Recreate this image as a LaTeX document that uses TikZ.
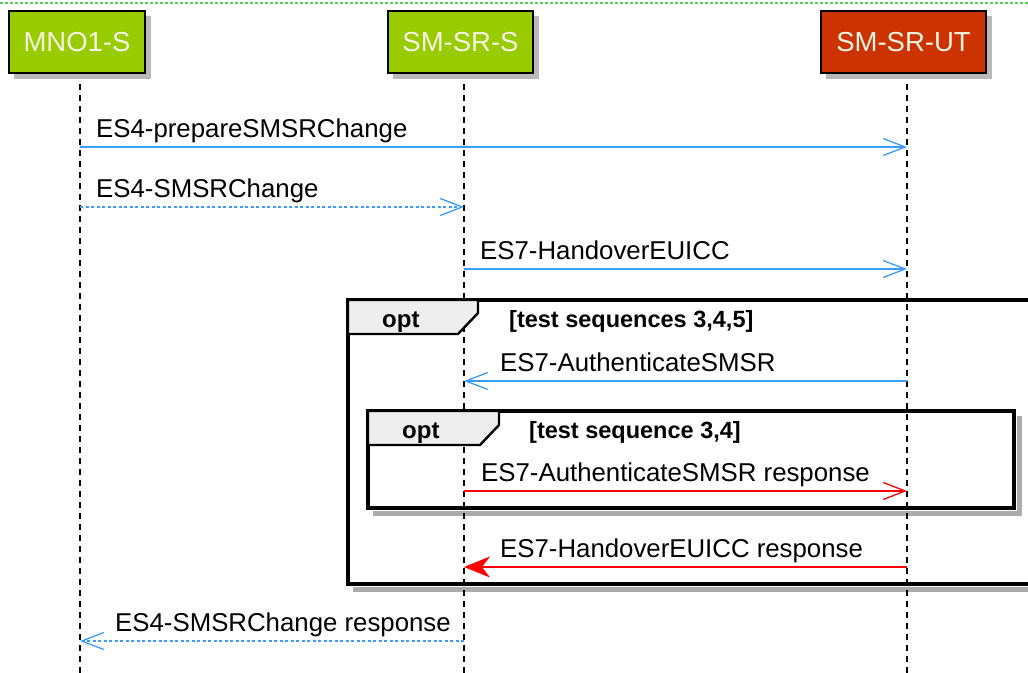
\documentclass[tikz,border=0pt]{standalone}
\usepackage{fontspec}
\setmainfont{Liberation Sans}
\usetikzlibrary{arrows.meta}
\definecolor{pgreen}{HTML}{99CC00}
\definecolor{pred}{HTML}{CC3300}
\definecolor{ptext}{HTML}{F4F4E4}
\definecolor{mblue}{HTML}{3A9CFF}
\definecolor{mred}{HTML}{FF0000}
\definecolor{tabgray}{HTML}{EEEEEE}
\definecolor{topgreen}{HTML}{55CC55}
\begin{document}
\begin{tikzpicture}[x=1pt,y=-1pt,
  partbox/.style={draw=black, line width=2.4pt, minimum height=62pt, inner sep=0pt,
    text=ptext, font=\fontsize{27.5}{30}\selectfont},
  lifeline/.style={black, line width=1.4pt, dash pattern=on 6pt off 5pt},
  msgsolid/.style={line width=1.2pt},
  msgdotted/.style={line width=1.2pt, dash pattern=on 3pt off 2.5pt},
  openhead/.style={-{Straight Barb[length=22pt,width=17pt,line width=1.3pt]}},
  fillhead/.style={-{Stealth[length=26pt,width=21pt,inset=8pt]}},
  lbl/.style={anchor=base west, inner sep=0pt, font=\fontsize{25.8}{30}\selectfont},
  optlbl/.style={anchor=base west, inner sep=0pt, font=\bfseries\fontsize{24}{28}\selectfont},
  condlbl/.style={anchor=base west, inner sep=0pt, font=\bfseries\fontsize{23.5}{28}\selectfont},
  frameline/.style={draw=black, line width=3.2pt},
  shadowline/.style={draw=black!55, line width=5pt, opacity=0.6},
  boxshadow/.style={fill=black!50, opacity=0.55}]
\useasboundingbox (0,0) rectangle (1028,672);
\fill[white] (0,0) rectangle (1028,672);
% top dashed green line
\draw[topgreen, line width=1.2pt, dash pattern=on 3pt off 2pt] (0,3) -- (1028,3);

% frame shadows
\draw[shadowline] (353,589) -- (1035,589);
\draw[shadowline] (373,513) -- (1019,513) -- (1019,416);

% lifelines
\coordinate (l1t) at (80,84);  \coordinate (l1b) at (80,675);
\coordinate (l2t) at (464,84); \coordinate (l2b) at (464,675);
\coordinate (l3t) at (907,84); \coordinate (l3b) at (907,675);
\draw[lifeline] (l1t) -- (l1b);
\draw[lifeline] (l2t) -- (l2b);
\draw[lifeline] (l3t) -- (l3b);

% participant shadows
\fill[boxshadow] (14,16) rectangle (151,79);
\fill[boxshadow] (393,16) rectangle (539,79);
\fill[boxshadow] (826,16) rectangle (992,79);
% participants
\node[partbox, fill=pgreen, minimum width=136pt] (mno) at (77,41.7) {MNO1-S};
\node[partbox, fill=pgreen, minimum width=145pt] (smsrs) at (460.5,41.7) {SM-SR-S};
\node[partbox, fill=pred, minimum width=165pt] (smsrut) at (903.5,41.7) {SM-SR-UT};

% outer opt frame
\draw[frameline] (1040,300) -- (348,300) -- (348,584) -- (1040,584);
\filldraw[fill=tabgray, draw=black, line width=2.4pt, line join=miter]
  (348,300) -- (478,300) -- (478,313) -- (458,334) -- (348,334) -- cycle;
\node[optlbl] (opt1) at (382,327) {opt};
\node[condlbl] (cond1) at (509,327) {[test sequences 3,4,5]};

% inner opt frame
\draw[frameline] (368,411) rectangle (1014,508);
\filldraw[fill=tabgray, draw=black, line width=2.4pt, line join=miter]
  (368,411) -- (499,411) -- (499,425) -- (480,445) -- (368,445) -- cycle;
\node[optlbl] (opt2) at (402,438) {opt};
\node[condlbl] (cond2) at (529,438) {[test sequence 3,4]};

% message end points
\coordinate (m1a) at (80,147);  \coordinate (m1b) at (907,147);
\coordinate (m2a) at (80,207);  \coordinate (m2b) at (464,207);
\coordinate (m3a) at (464,269); \coordinate (m3b) at (907,269);
\coordinate (m4a) at (907,381); \coordinate (m4b) at (464,381);
\coordinate (m5a) at (464,491); \coordinate (m5b) at (907,491);
\coordinate (m6a) at (907,567); \coordinate (m6b) at (464,567);
\coordinate (m7a) at (464,641); \coordinate (m7b) at (80,641);

\draw[msgsolid, mblue, openhead] (m1a) -- (m1b);
\node[lbl] (t1) at (96,137) {ES4-prepareSMSRChange};
\draw[msgdotted, mblue, openhead] (m2a) -- (m2b);
\node[lbl] (t2) at (96,197) {ES4-SMSRChange};
\draw[msgsolid, mblue, openhead] (m3a) -- (m3b);
\node[lbl] (t3) at (480,259) {ES7-HandoverEUICC};
\draw[msgsolid, mblue, openhead] (m4a) -- (m4b);
\node[lbl] (t4) at (500,371) {ES7-AuthenticateSMSR};
\draw[msgsolid, mred, openhead] (m5a) -- (m5b);
\node[lbl] (t5) at (481,481) {ES7-AuthenticateSMSR response};
\draw[msgsolid, mred, fillhead] (m6a) -- (m6b);
\node[lbl] (t6) at (500,557) {ES7-HandoverEUICC response};
\draw[msgdotted, mblue, openhead] (m7a) -- (m7b);
\node[lbl] (t7) at (115,631) {ES4-SMSRChange response};
\end{tikzpicture}
\end{document}
